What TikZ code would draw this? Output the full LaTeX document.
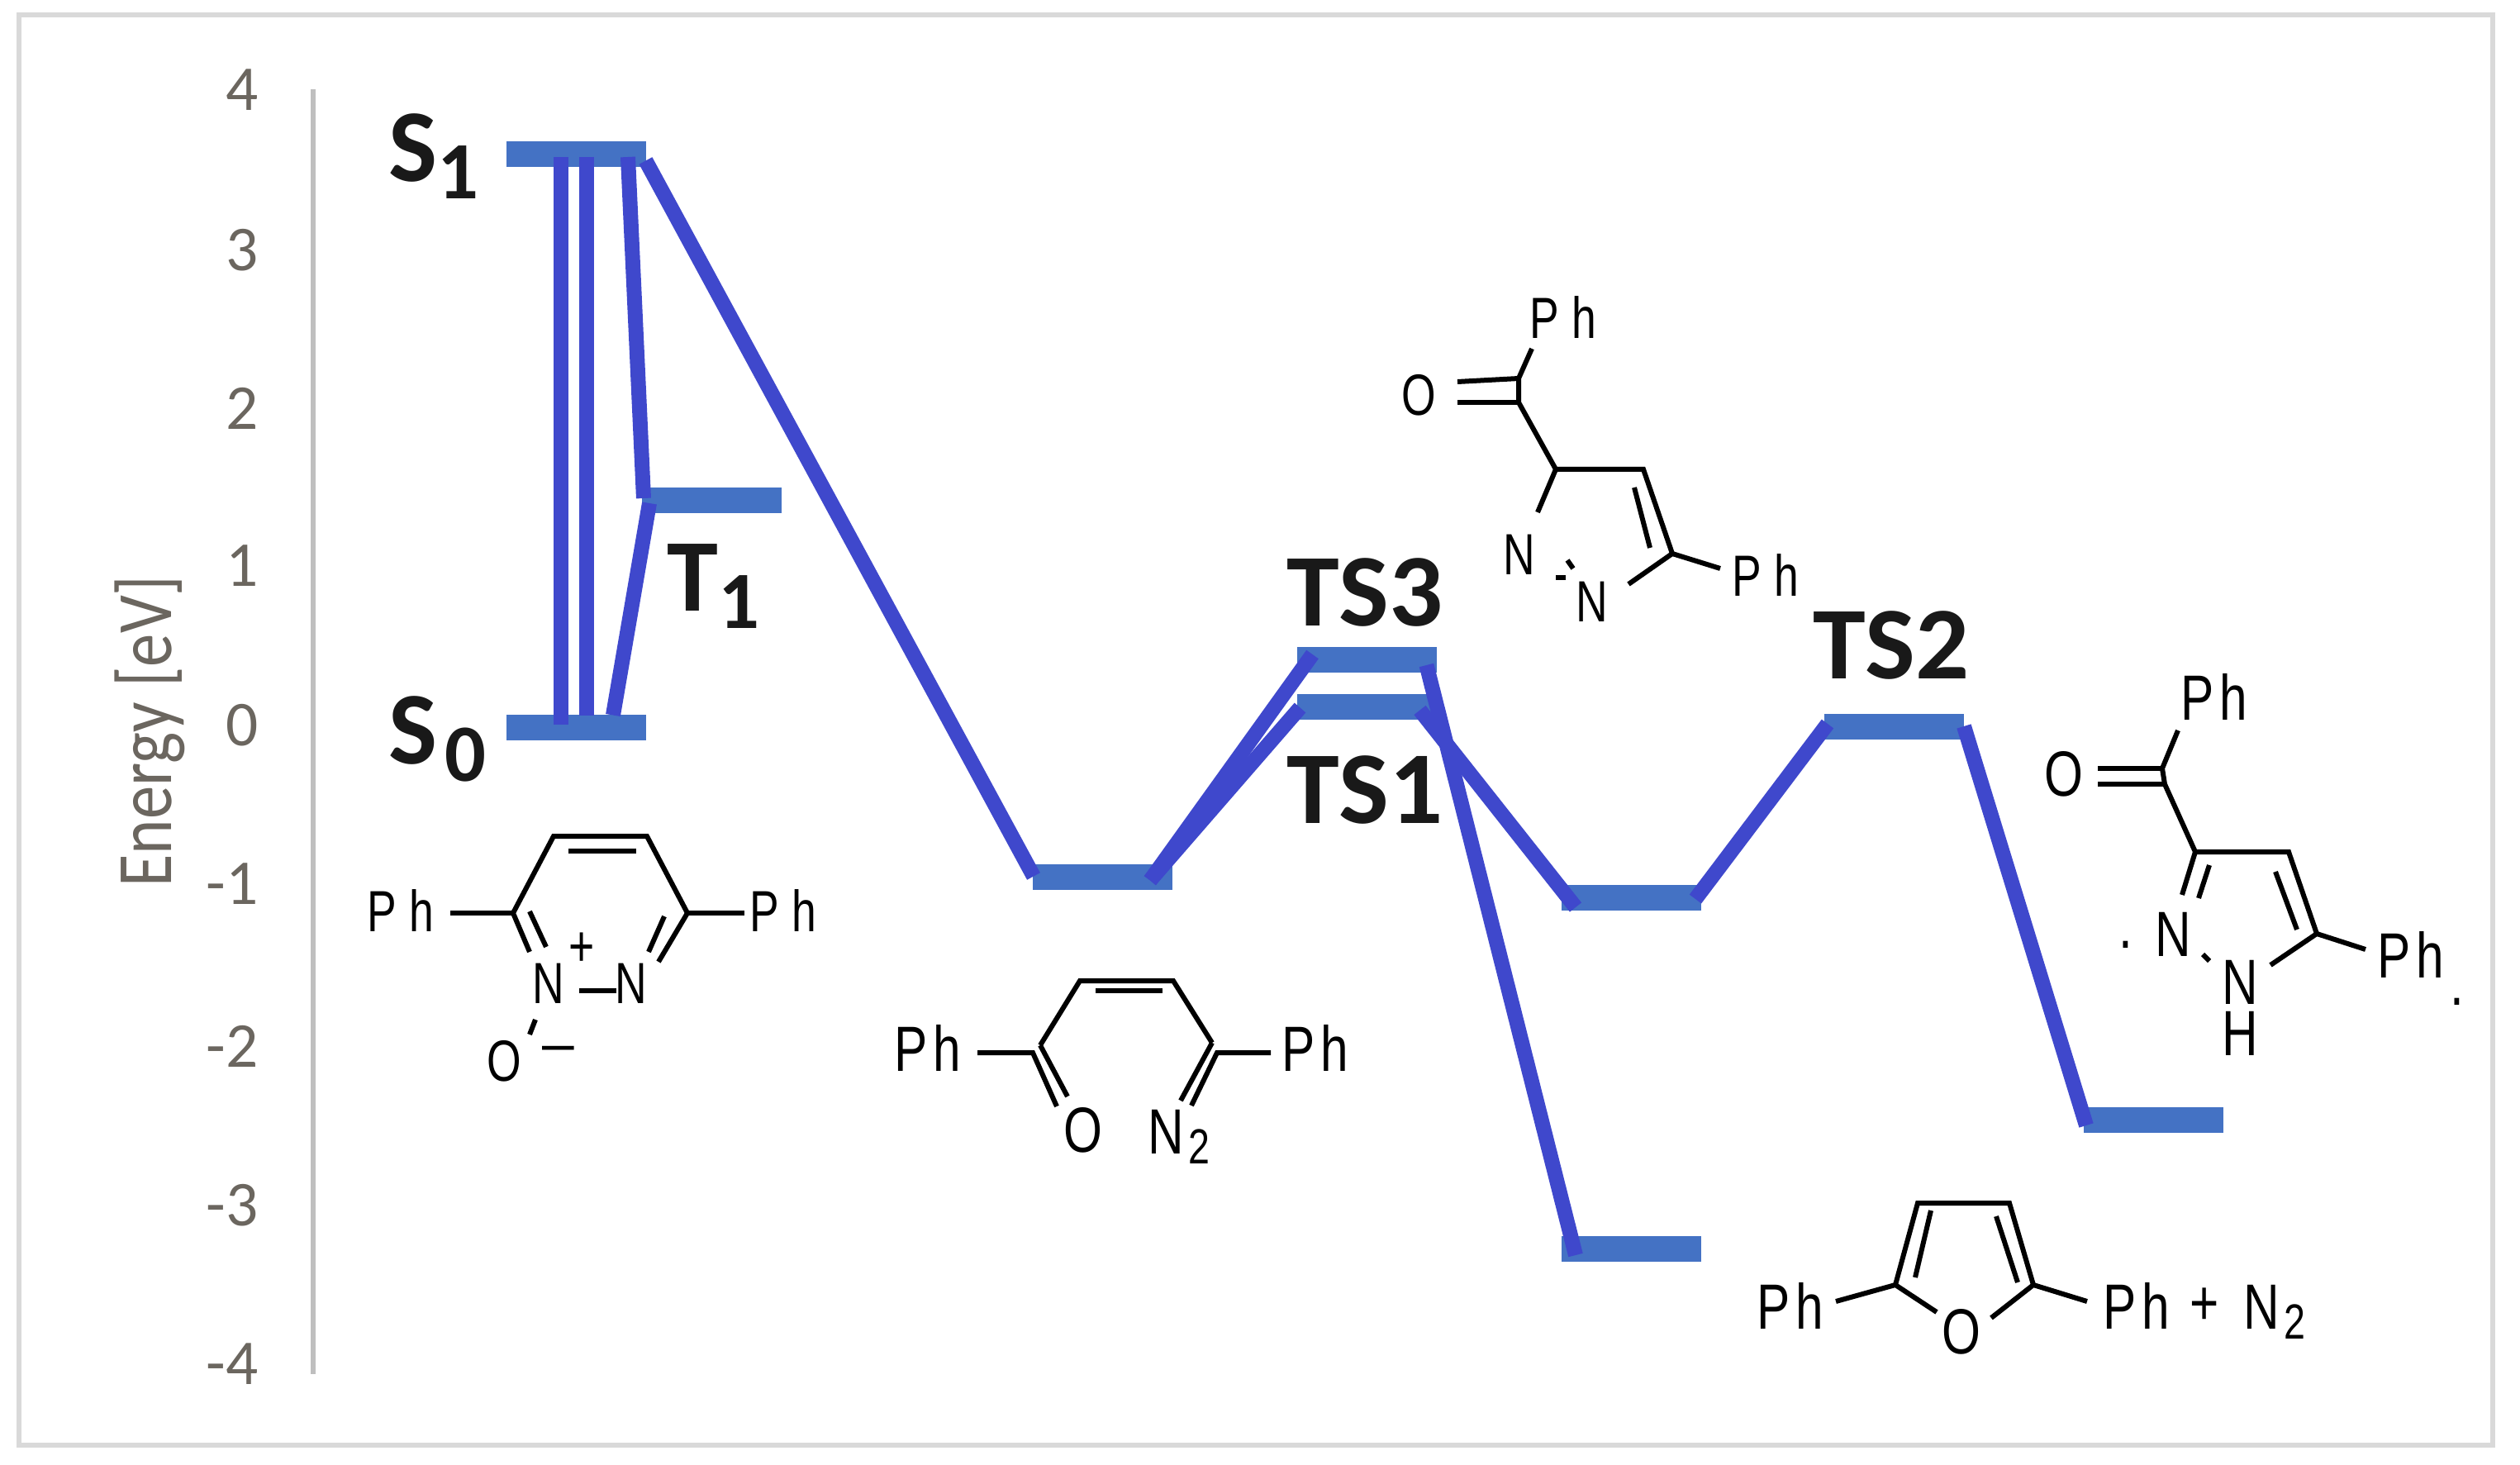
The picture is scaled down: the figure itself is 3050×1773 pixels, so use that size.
\documentclass[tikz,border=0pt]{standalone}
\usepackage{fontspec}
\setmainfont{Carlito}
\newfontfamily\atomfamily{Liberation Sans}
\usepackage{tikz}

\definecolor{framegray}{HTML}{D9D9D9}
\definecolor{axisgray}{HTML}{BFBFBF}
\definecolor{tickgray}{HTML}{6B665F}
\definecolor{levelblue}{HTML}{4472C4}
\definecolor{pathblue}{HTML}{3F48CC}

\newcommand{\levelsub}[1]{\raisebox{-21\unitlength}{\fontsize{28}{28}\selectfont #1}}
\newcommand{\atomsub}[1]{\kern 2pt\raisebox{-12\unitlength}{\fontsize{17}{17}\selectfont #1}}
\setlength{\unitlength}{0.01cm}

\tikzset{
    level/.style={fill=levelblue,draw=none,minimum width=169\unitlength,minimum height=31\unitlength,inner sep=0pt},
    levelname/.style={font=\fontsize{35.5}{36}\selectfont\bfseries,text=black!90,inner sep=0pt,anchor=base west},
    tick/.style={font=\fontsize{22}{22}\selectfont,text=tickgray,inner sep=0pt,anchor=east},
    atom/.style={font=\atomfamily\fontsize{20}{20}\selectfont,inner sep=0pt,xscale=0.76},
    atombig/.style={font=\atomfamily\fontsize{22}{22}\selectfont,inner sep=0pt,xscale=0.78},
    path/.style={draw=pathblue,line width=18\unitlength},
    bond/.style={draw=black,line width=6\unitlength}
}

\begin{document}
\begin{tikzpicture}[x=0.01cm,y=-0.01cm]
            \useasboundingbox (0,0) rectangle (3050,1773);
            \draw[framegray,line width=6.5\unitlength] (23,18) rectangle (3017,1749);
            \coordinate (axtop) at (379,108);
            \coordinate (axbot) at (379,1663);
            \draw[axisgray,line width=6\unitlength] (axtop) -- (axbot);

            % axis labels
            \node[tick] (t4) at (313,109) {4};
            \node[tick] (t3) at (313,303) {3};
            \node[tick] (t2) at (313,494) {2};
            \node[tick] (t1) at (313,685) {1};
            \node[tick] (t0) at (313,878) {0};
            \node[tick] (tm1) at (313,1070) {-1};
            \node[tick] (tm2) at (313,1266) {-2};
            \node[tick] (tm3) at (313,1459) {-3};
            \node[tick] (tm4) at (313,1651) {-4};
            \node[rotate=90,font=\fontsize{27}{27}\selectfont,text=tickgray,inner sep=0pt,xscale=0.85] (energy) at (181,885) {Energy [eV]};

            % levels
            \node[level] (S1) at (697.5,186.5) {};
            \node[level] (S0) at (697.5,880.5) {};
            \node[level] (T1) at (861,605.5) {};
            \node[level] (M1) at (1334,1061.5) {};
            \node[level] (TS3) at (1654.5,799) {};
            \node[level] (TS1) at (1654.5,855.5) {};
            \node[level] (M2) at (1974,1086) {};
            \node[level] (P1) at (1974,1511) {};
            \node[level] (TS2) at (2292,879) {};
            \node[level] (P2) at (2606,1355) {};

            % paths
            \draw[path] ([shift={(-18.5,3.5)}]S1.center) -- ([shift={(-18.5,-3.5)}]S0.center);
            \draw[path] ([shift={(12.5,3.5)}]S1.center) -- ([shift={(12.5,-15)}]S0.center);
            \draw[path] ([shift={(62.5,3.5)}]S1.center) -- ([shift={(-82,-2.5)}]T1.center);
            \draw[path] ([shift={(-75,3.5)}]T1.center) -- ([shift={(44.5,-15)}]S0.center);
            \draw[path] ([shift={(84,8)}]S1.center) -- ([shift={(-83,-1)}]M1.center);
            \draw[path] ([shift={(58,4)}]M1.center) -- ([shift={(-66,-7)}]TS3.center);
            \draw[path] ([shift={(58,4)}]M1.center) -- ([shift={(-81,1)}]TS1.center);
            \draw[path] ([shift={(72,6)}]TS3.center) -- ([shift={(-67,8)}]P1.center);
            \draw[path] ([shift={(64,4)}]TS1.center) -- ([shift={(-67,12)}]M2.center);
            \draw[path] ([shift={(78,2)}]M2.center) -- ([shift={(-80,-3)}]TS2.center);
            \draw[path] ([shift={(85,0)}]TS2.center) -- ([shift={(-81,7)}]P2.center);

            % level names
            \node[levelname] (nameS1) at (470,220) {S\levelsub{1}};
            \node[levelname] (nameS0) at (470,925) {S\kern 2.5pt\levelsub{0}};
            \node[levelname] (nameT1) at (807,740) {T\levelsub{1}};
            \node[levelname,xscale=1.03] (nameTS3) at (1557,758) {TS3};
            \node[levelname,xscale=1.03] (nameTS1) at (1557,996) {TS1};
            \node[levelname,xscale=1.03] (nameTS2) at (2194,821) {TS2};

            % S0 molecule
            \node[atom] (aPhl) at (485,1102) {P\kern 6pt h};
            \node[atom] (aPhr) at (948,1102) {P\kern 6pt h};
            \node[atom] (aNl) at (664,1190) {N};
            \node[atom] (aNr) at (764,1190) {N};
            \node[atom] (aO) at (610,1284) {O};
            \node[atom] (aplus) at (704,1149) {+};
            \node[atom,xscale=1.3] (aminus) at (676,1276) {–};
            \coordinate (a1) at (670,1012); \coordinate (a2) at (783,1012);
            \coordinate (a3) at (621,1105); \coordinate (a4) at (832,1105);
            \coordinate (a5) at (545,1105); \coordinate (a6) at (901,1105);
            \coordinate (a7) at (641,1152); \coordinate (a8) at (797,1164);
            \draw[bond] (a4) -- (a2) -- (a1) -- (a3) -- (a7);
            \draw[bond] (a5) -- (a3);
            \draw[bond] (a4) -- (a6);
            \draw[bond] (a4) -- (a8);
            \coordinate (a9) at (688,1030); \coordinate (a10) at (770,1030);
            \draw[bond] (a9) -- (a10);
            \coordinate (a11) at (641,1103); \coordinate (a12) at (661,1146);
            \draw[bond] (a11) -- (a12);
            \coordinate (a13) at (804,1109); \coordinate (a14) at (785,1152);
            \draw[bond] (a13) -- (a14);
            \coordinate (a15) at (701,1199); \coordinate (a16) at (746,1199);
            \draw[bond] (a15) -- (a16);
            \coordinate (a17) at (648,1234); \coordinate (a18) at (641,1252);
            \draw[bond] (a17) -- (a18);

            % first intermediate
            \node[atombig] (bPhl) at (1123,1268) {P\kern 2.5pt h};
            \node[atombig] (bPhr) at (1592,1268) {P\kern 2.5pt h};
            \node[atombig] (bO) at (1311,1368) {O};
            \node[atombig,anchor=base west] (bN) at (1389,1396) {N\atomsub{2}};
            \coordinate (b1) at (1307,1187); \coordinate (b2) at (1420,1187);
            \coordinate (b3) at (1259,1265); \coordinate (b4) at (1467,1262);
            \draw[bond] (b3) -- (b1) -- (b2) -- (b4);
            \coordinate (b5) at (1326,1199); \coordinate (b6) at (1407,1199);
            \draw[bond] (b5) -- (b6);
            \coordinate (b7) at (1183,1274); \coordinate (b8) at (1250,1274);
            \coordinate (b9) at (1279,1339);
            \draw[bond] (b7) -- (b8) -- (b9);
            \coordinate (b10) at (1292,1327);
            \draw[bond] (b3) -- (b10);
            \coordinate (b11) at (1538,1274); \coordinate (b12) at (1473,1274);
            \coordinate (b13) at (1442,1338);
            \draw[bond] (b11) -- (b12) -- (b13);
            \coordinate (b14) at (1429,1332);
            \draw[bond] (b4) -- (b14);

            % TS3 molecule
            \node[atom] (cPht) at (1892,384) {P\kern 6pt h};
            \node[atom] (cPhr) at (2137,696) {P\kern 6pt h};
            \node[atom] (cO) at (1717,478) {O};
            \node[atom] (cNl) at (1839,671) {N};
            \node[atom] (cNr) at (1927,728) {N};
            \coordinate (c1) at (1854,422); \coordinate (c2) at (1838,458);
            \coordinate (c3) at (1764,462); \coordinate (c4) at (1838,487);
            \coordinate (c5) at (1764,487); \coordinate (c6) at (1883,568);
            \coordinate (c7) at (1989,568); \coordinate (c8) at (1861,620);
            \coordinate (c9) at (2024,670); \coordinate (c10) at (1971,707);
            \coordinate (c11) at (2082,688); \coordinate (c12) at (1978,590);
            \coordinate (c13) at (1997,663); \coordinate (c14) at (1897,678);
            \coordinate (c15) at (1904,688); \coordinate (c16) at (1883,699);
            \coordinate (c17) at (1895,699);
            \draw[bond] (c1) -- (c2) -- (c4) -- (c6) -- (c7) -- (c9) -- (c10);
            \draw[bond] (c3) -- (c2);
            \draw[bond] (c5) -- (c4);
            \draw[bond] (c6) -- (c8);
            \draw[bond] (c9) -- (c11);
            \draw[bond] (c12) -- (c13);
            \draw[bond] (c14) -- (c15);
            \draw[bond] (c16) -- (c17);

            % TS2 product
            \node[atombig] (dPht) at (2680,843) {P\kern 2.5pt h};
            \node[atombig] (dPhr) at (2918,1155) {P\kern 2.5pt h};
            \node[atombig] (dO) at (2498,937) {O};
            \node[atombig] (dNl) at (2630,1131) {N};
            \node[atombig] (dNr) at (2711,1189) {N};
            \node[atombig] (dH) at (2711,1251) {H};
            \node[atombig,anchor=base] (ddotl) at (2573,1147) {.};
            \node[atombig,anchor=base] (ddotr) at (2974,1216) {.};
            \coordinate (d1) at (2636,884); \coordinate (d2) at (2617,930);
            \coordinate (d3) at (2539,930); \coordinate (d4) at (2620,949);
            \coordinate (d5) at (2539,949); \coordinate (d6) at (2657,1031);
            \coordinate (d7) at (2770,1031); \coordinate (d8) at (2641,1083);
            \coordinate (d9) at (2674,1047); \coordinate (d10) at (2661,1087);
            \coordinate (d11) at (2804,1130); \coordinate (d12) at (2754,1055);
            \coordinate (d13) at (2780,1125); \coordinate (d14) at (2748,1168);
            \coordinate (d15) at (2863,1149); \coordinate (d16) at (2666,1155);
            \coordinate (d17) at (2674,1163);
            \draw[bond] (d1) -- (d2) -- (d4) -- (d6) -- (d7) -- (d11) -- (d14);
            \draw[bond] (d3) -- (d2);
            \draw[bond] (d5) -- (d4);
            \draw[bond] (d6) -- (d8);
            \draw[bond] (d9) -- (d10);
            \draw[bond] (d12) -- (d13);
            \draw[bond] (d11) -- (d15);
            \draw[bond] (d16) -- (d17);

            % furan product
            \node[atombig] (ePhl) at (2167,1580) {P\kern 2.5pt h};
            \node[atombig] (ePhr) at (2586,1580) {P\kern 2.5pt h};
            \node[atombig] (eO) at (2374,1612) {O};
            \node[atombig] (eplus) at (2668,1581) {+};
            \node[atombig,anchor=base west] (eN) at (2715,1608) {N\atomsub{2}};
            \coordinate (e1) at (2321,1456); \coordinate (e2) at (2432,1456);
            \coordinate (e3) at (2294,1555); \coordinate (e4) at (2461,1555);
            \coordinate (e5) at (2337,1465); \coordinate (e6) at (2318,1546);
            \coordinate (e7) at (2416,1472); \coordinate (e8) at (2442,1552);
            \coordinate (e9) at (2222,1575); \coordinate (e10) at (2526,1575);
            \coordinate (e11) at (2344,1588); \coordinate (e12) at (2410,1595);
            \draw[bond] (e3) -- (e1) -- (e2) -- (e4);
            \draw[bond] (e5) -- (e6);
            \draw[bond] (e7) -- (e8);
            \draw[bond] (e9) -- (e3) -- (e11);
            \draw[bond] (e10) -- (e4) -- (e12);
        \end{tikzpicture}
\end{document}
